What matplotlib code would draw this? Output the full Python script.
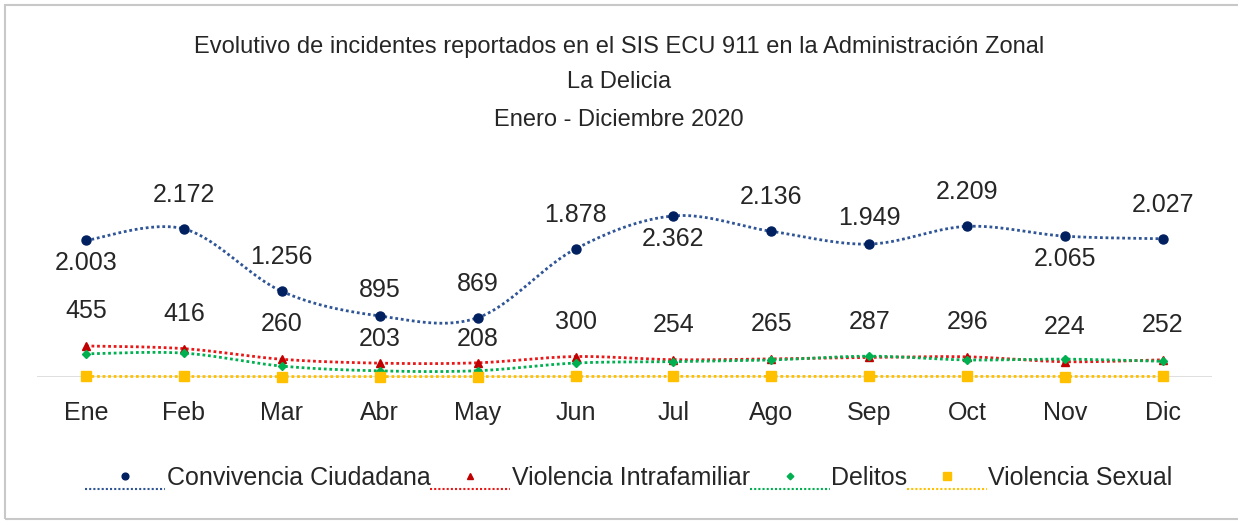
import numpy as np
import matplotlib
matplotlib.use("Agg")
import matplotlib.pyplot as plt
from matplotlib import font_manager
from matplotlib.legend_handler import HandlerLine2DCompound
from matplotlib.patches import Rectangle

meses = ["Ene", "Feb", "Mar", "Abr", "May", "Jun", "Jul", "Ago", "Sep", "Oct", "Nov", "Dic"]

convivencia = [2003, 2172, 1256, 895, 869, 1878, 2362, 2136, 1949, 2209, 2065, 2027]
intrafamiliar = [455, 416, 260, 203, 208, 300, 254, 265, 287, 296, 224, 252]
delitos = [340, 350, 160, 90, 92, 205, 225, 250, 305, 250, 262, 230]
sexual = [8, 8, 6, 7, 6, 8, 9, 9, 8, 9, 7, 8]

# where excel put the labels of the first series
pos_convivencia = ["below", "above", "above", "above", "above", "above",
                   "below", "above", "above", "above", "below", "above"]

TITULO = ["Evolutivo de incidentes reportados en el SIS ECU 911 en la Administración Zonal",
          "La Delicia",
          "Enero - Diciembre 2020"]

names = {f.name for f in font_manager.fontManager.ttflist}
FONT = "Liberation Sans Narrow" if "Liberation Sans Narrow" in names else "Liberation Sans"
plt.rcParams["font.family"] = [FONT, "DejaVu Sans"]
FS = 21 if FONT == "Liberation Sans Narrow" else 18
FS_T = 18 if FONT == "Liberation Sans Narrow" else 17

W, H = 1238, 521


def smooth(y, n=30):
    # excel-like smoothed line (catmull-rom through the points)
    y = np.asarray(y, dtype=float)
    x = np.arange(len(y), dtype=float)
    px = np.concatenate([[x[0]], x, [x[-1]]])
    py = np.concatenate([[y[0]], y, [y[-1]]])
    xs, ys = [], []
    t = np.linspace(0, 1, n)
    for i in range(1, len(px) - 2):
        for arr, out in ((px, xs), (py, ys)):
            p0, p1, p2, p3 = arr[i - 1], arr[i], arr[i + 1], arr[i + 2]
            c1 = p1 + (p2 - p0) / 6
            c2 = p2 - (p3 - p1) / 6
            out.extend((1 - t) ** 3 * p1 + 3 * (1 - t) ** 2 * t * c1 + 3 * (1 - t) * t ** 2 * c2 + t ** 3 * p2)
    return np.array(xs), np.array(ys)


class LowLineHandler(HandlerLine2DCompound):
    # excel draws the legend line under the marker
    def create_artists(self, legend, orig_handle, xdescent, ydescent, width, height, fontsize, trans):
        arts = super().create_artists(legend, orig_handle, xdescent, ydescent, width, height, fontsize, trans)
        line = arts[0]
        line.set_ydata(np.asarray(line.get_ydata()) - 0.7 * height)
        return arts


fig = plt.figure(figsize=(W / 100, H / 100), dpi=100)
ax = fig.add_axes([37 / W, (H - 377) / H, (1212 - 37) / W, (377 - 138.3) / H])

series = [
    ("Convivencia Ciudadana", convivencia, "#2F5597", "#002060", "o", 6.5),
    ("Violencia Intrafamiliar", intrafamiliar, "#E81818", "#C00000", "^", 6),
    ("Delitos", delitos, "#00B050", "#00B050", "D", 4.5),
    ("Violencia Sexual", sexual, "#FFC000", "#FFC000", "s", 7),
]

handles = []
x = np.arange(len(meses))
for name, vals, lc, mc, mk, ms in series:
    sx, sy = smooth(vals)
    ax.plot(sx, sy, color=lc, lw=2, ls=(0, (1, 1)), clip_on=False, zorder=3)
    ax.plot(x, vals, ls="none", marker=mk, ms=ms, color=mc, clip_on=False, zorder=4)
    h, = ax.plot([], [], color=lc, lw=1.5, ls=(0, (1, 1)), marker=mk, ms=ms * 0.75,
                 markerfacecolor=mc, markeredgecolor=mc, label=name)
    handles.append(h)

ax.axhline(0, color="#D9D9D9", lw=1.2, zorder=1)

for i, v in enumerate(convivencia):
    off = 34 if pos_convivencia[i] == "above" else -23
    if meses[i] in ("Abr", "Sep"):
        off = 26
    ax.annotate(f"{v:,}".replace(",", "."), (i, v), xytext=(0, off), textcoords="offset pixels",
                ha="center", va="center", fontsize=FS, color="#262626")

for i, v in enumerate(intrafamiliar):
    off = 24 if meses[i] in ("Abr", "May") else 35
    ax.annotate(f"{v:,}".replace(",", "."), (i, v), xytext=(0, off), textcoords="offset pixels",
                ha="center", va="center", fontsize=FS, color="#262626")

ax.set_xlim(-0.5, len(meses) - 0.5)
ax.set_ylim(0, 3500)
ax.set_xticks(x)
ax.set_xticklabels(meses, fontsize=FS, color="#262626")
ax.tick_params(axis="x", length=0, pad=17)
ax.set_yticks([])
for s in ax.spines.values():
    s.set_visible(False)

for txt, yp in zip(TITULO, [47, 82, 120]):
    fig.text(0.5, (H - yp) / H, txt, ha="center", va="center", fontsize=FS_T, color="#262626")

fig.legend(handles=handles, loc="center", bbox_to_anchor=(629 / W, (H - 478) / H), ncol=4,
           frameon=False, fontsize=FS, handlelength=57.6 / FS, handletextpad=0.05, columnspacing=0.0,
           borderpad=0, labelcolor="#262626",
           handler_map={h: LowLineHandler() for h in handles})

fig.patches.append(Rectangle((5 / W, 2 / H), 1.1, (H - 7) / H, transform=fig.transFigure,
                             fill=False, edgecolor="#C8C8C8", lw=1.5, zorder=0))

plt.savefig("out.png", dpi=100)
